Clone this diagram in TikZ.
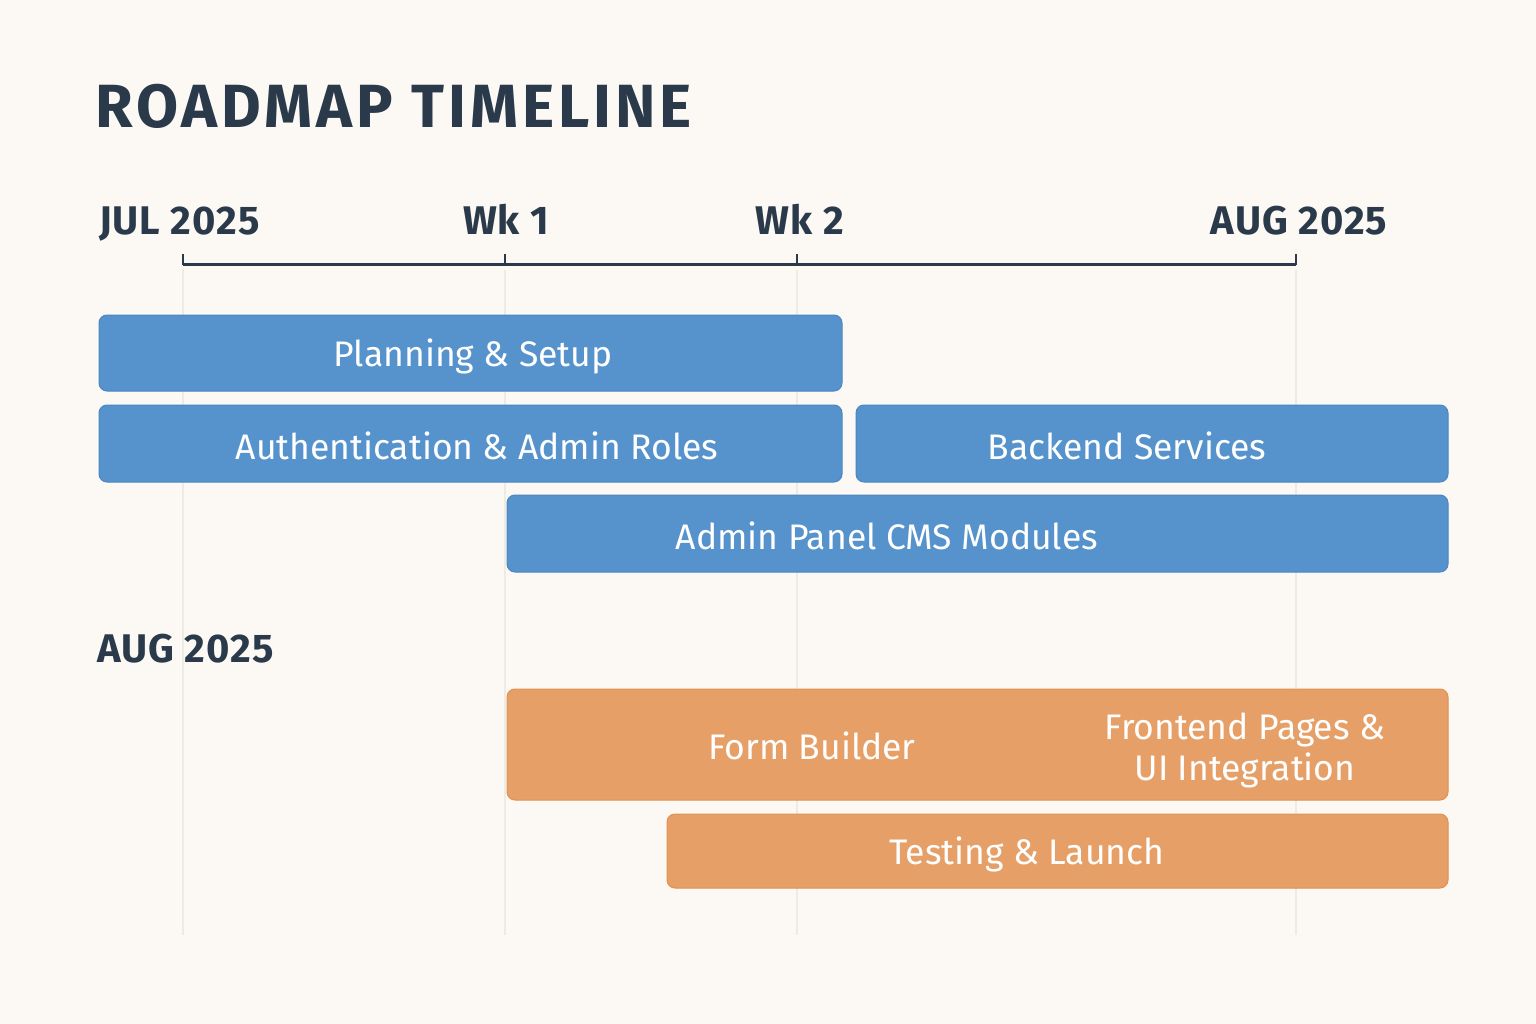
\documentclass[tikz,border=0pt]{standalone}
\usepackage{fontspec}
\setmainfont{Fira Sans}
\definecolor{bg}{HTML}{FCF9F4}
\definecolor{ink}{HTML}{2B3A4B}
\definecolor{bluebar}{HTML}{5693CC}
\definecolor{blueedge}{HTML}{4A86C2}
\definecolor{orbar}{HTML}{E6A067}
\definecolor{oredge}{HTML}{E0914F}
\definecolor{grid}{HTML}{EEEBE5}
\begin{document}
\begin{tikzpicture}[x=1pt,y=-1pt,
  bar/.style={draw=blueedge, fill=bluebar, line width=1pt, rounded corners=8pt},
  obar/.style={draw=oredge, fill=orbar, line width=1pt, rounded corners=8pt},
  bartext/.style={text=white, font=\fontsize{35.5}{41}\selectfont, align=center},
  axlabel/.style={text=ink, font=\fontsize{40}{44}\selectfont\bfseries\addfontfeatures{LetterSpace=2.5}},
  gridline/.style={draw=grid, line width=1.5pt}]
\fill[bg] (0,0) rectangle (1536,1024);
\useasboundingbox (0,0) rectangle (1536,1024);
% title
\node[anchor=base west, inner sep=0, text=ink, font=\fontsize{61}{66}\selectfont\bfseries\addfontfeatures{LetterSpace=6.5}] (title) at (95,128) {ROADMAP TIMELINE};
% grid lines
\foreach \x/\n in {183/g0,505/g1,797/g2,1296/g3}{
  \coordinate (\n top) at (\x,270);
  \coordinate (\n bot) at (\x,935);
  \draw[gridline] (\n top) -- (\n bot);
}
% axis
\coordinate (a0) at (183,265);
\coordinate (a1) at (505,265);
\coordinate (a2) at (797,265);
\coordinate (a3) at (1296,265);
\draw[ink, line width=3pt] (a0) -- (a3);
\foreach \n in {a0,a1,a2,a3}{ \draw[ink, line width=2.5pt] (\n) -- ++(0,-11); }
\node[axlabel, anchor=base west, inner sep=0] (l0) at (99,235) {JUL 2025};
\node[axlabel, anchor=base, inner sep=0] (l1) at (506,235) {Wk 1};
\node[axlabel, anchor=base, inner sep=0] (l2) at (800,235) {Wk 2};
\node[axlabel, anchor=base, inner sep=0] (l3) at (1299,235) {AUG 2025};
% blue bars
\draw[bar] (99,315) rectangle (842,391);
\node[bartext] (t1) at (473,356) {Planning \& Setup};
\draw[bar] (99,405) rectangle (842,482);
\node[bartext] (t2) at (477,446) {Authentication \& Admin Roles};
\draw[bar] (856,405) rectangle (1448,482);
\node[bartext] (t3) at (1127,446) {Backend Services};
\draw[bar] (507,495) rectangle (1448,572);
\node[bartext] (t4) at (887,536) {Admin Panel CMS Modules};
% second section label
\node[axlabel, anchor=base west, inner sep=0] (aug) at (97,662) {AUG 2025};
% orange bars
\draw[obar] (507,689) rectangle (1448,800);
\node[bartext] (t5) at (812,746) {Form Builder};
\node[bartext] (t6) at (1245,750) {Frontend Pages \&\\UI Integration};
\draw[obar] (667,814) rectangle (1448,888);
\node[bartext] (t7) at (1027,854) {Testing \& Launch};
\end{tikzpicture}
\end{document}
